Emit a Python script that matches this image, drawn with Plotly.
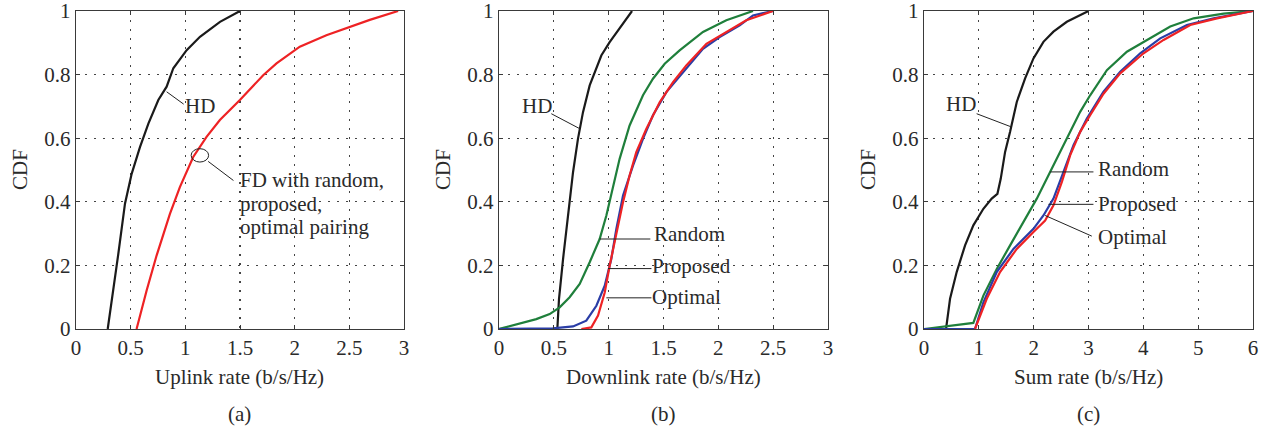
import plotly.graph_objects as go

# ---------------- data ----------------
# (a) Uplink rate
up_hd_x = [0.29, 0.341, 0.387, 0.448, 0.509, 0.585, 0.662, 0.753, 0.829, 0.89, 1.012, 1.134, 1.317, 1.5]
up_hd_y = [0.0, 0.121, 0.236, 0.394, 0.488, 0.572, 0.646, 0.72, 0.762, 0.82, 0.877, 0.919, 0.966, 1.0]
up_fd_x = [0.554, 0.646, 0.737, 0.859, 0.95, 1.072, 1.194, 1.316, 1.499, 1.712, 1.834, 2.047, 2.29, 2.504, 2.687, 2.946]
up_fd_y = [0.0, 0.121, 0.231, 0.362, 0.446, 0.541, 0.604, 0.657, 0.72, 0.798, 0.835, 0.888, 0.924, 0.951, 0.972, 1.0]

# (b) Downlink rate
dl_hd_x = [0.532, 0.547, 0.584, 0.629, 0.675, 0.72, 0.766, 0.827, 0.888, 0.933, 1.009, 1.1, 1.213]
dl_hd_y = [0.0, 0.094, 0.22, 0.357, 0.493, 0.598, 0.682, 0.766, 0.818, 0.86, 0.902, 0.944, 1.0]
dl_rand_x = [0.0, 0.188, 0.34, 0.462, 0.553, 0.644, 0.736, 0.827, 0.918, 0.979, 1.04, 1.1, 1.191, 1.313, 1.404, 1.511, 1.647, 1.86, 2.073, 2.316]
dl_rand_y = [0.0, 0.016, 0.031, 0.047, 0.068, 0.1, 0.142, 0.21, 0.283, 0.357, 0.451, 0.535, 0.64, 0.735, 0.787, 0.834, 0.876, 0.934, 0.971, 1.0]
dl_prop_x = [0.0, 0.49, 0.675, 0.796, 0.888, 0.964, 1.024, 1.07, 1.131, 1.222, 1.313, 1.404, 1.526, 1.678, 1.86, 2.012, 2.195, 2.316, 2.498]
dl_prop_y = [0.0, 0.002, 0.008, 0.026, 0.073, 0.136, 0.22, 0.315, 0.42, 0.514, 0.598, 0.672, 0.745, 0.808, 0.881, 0.918, 0.955, 0.986, 1.0]
dl_opt_x = [0.751, 0.842, 0.903, 0.964, 1.009, 1.07, 1.131, 1.191, 1.252, 1.343, 1.465, 1.587, 1.708, 1.891, 2.073, 2.255, 2.498]
dl_opt_y = [0.0, 0.005, 0.042, 0.115, 0.199, 0.304, 0.399, 0.483, 0.556, 0.629, 0.713, 0.776, 0.829, 0.897, 0.934, 0.971, 1.0]

# (c) Sum rate
sr_hd_x = [0.402, 0.475, 0.596, 0.749, 0.9, 1.083, 1.235, 1.339, 1.4, 1.479, 1.57, 1.692, 1.844, 1.996, 2.178, 2.361, 2.605, 3.0]
sr_hd_y = [0.0, 0.095, 0.179, 0.263, 0.326, 0.378, 0.41, 0.425, 0.473, 0.557, 0.62, 0.714, 0.788, 0.851, 0.903, 0.935, 0.966, 1.0]
sr_rand_x = [0.0, 0.9, 1.083, 1.327, 1.57, 1.813, 2.057, 2.3, 2.483, 2.665, 2.848, 3.03, 3.335, 3.7, 4.065, 4.491, 4.917, 5.465, 6.0]
sr_rand_y = [0.0, 0.019, 0.105, 0.189, 0.263, 0.336, 0.41, 0.494, 0.557, 0.62, 0.683, 0.735, 0.814, 0.872, 0.909, 0.951, 0.977, 0.992, 1.0]
sr_prop_x = [0.0, 0.93, 1.083, 1.327, 1.631, 1.996, 2.178, 2.361, 2.544, 2.726, 2.97, 3.274, 3.578, 3.943, 4.308, 4.795, 5.282, 6.0]
sr_prop_y = [0.0, 0.0, 0.084, 0.179, 0.252, 0.315, 0.357, 0.41, 0.494, 0.578, 0.662, 0.746, 0.809, 0.867, 0.914, 0.956, 0.977, 1.0]
sr_opt_x = [0.93, 1.144, 1.387, 1.692, 1.996, 2.209, 2.361, 2.513, 2.665, 2.848, 3.03, 3.274, 3.578, 4.004, 4.369, 4.856, 5.343, 6.0]
sr_opt_y = [0.0, 0.095, 0.179, 0.252, 0.305, 0.341, 0.389, 0.462, 0.546, 0.62, 0.672, 0.74, 0.804, 0.867, 0.909, 0.956, 0.977, 1.0]

x_titles = ["Uplink rate (b/s/Hz)", "Downlink rate (b/s/Hz)", "Sum rate (b/s/Hz)"]
sub_labels = ["(a)", "(b)", "(c)"]
x_ranges = [[0, 3], [0, 3], [0, 6]]
x_dticks = [0.5, 0.5, 1]
y_ticks = [0, 0.2, 0.4, 0.6, 0.8, 1]
y_ticktext = ["0", "0.2", "0.4", "0.6", "0.8", "1"]

# ---------------- styling ----------------
W, H = 1266, 430
FONT = "Liberation Serif"
FS = 21
TXT = "#2a2a2a"
C_BLACK = "#1a1a1a"
C_RED = "#ee2224"
C_GREEN = "#1f7f3b"
C_BLUE = "#2a3da6"
LW = 2.2

panel_px = [(76, 404), (499, 828), (924, 1253)]
ylabel_px = [20, 443, 868]
TOP, BOT = 11, 329
plot_h = BOT - TOP

fig = go.Figure()

def add_line(x, y, color, axis_idx):
    sfx = "" if axis_idx == 1 else str(axis_idx)
    fig.add_trace(go.Scatter(x=x, y=y, mode="lines", line=dict(color=color, width=LW),
                             xaxis="x" + sfx, yaxis="y" + sfx, showlegend=False,
                             hoverinfo="skip", cliponaxis=False))

add_line(up_hd_x, up_hd_y, C_BLACK, 1)
add_line(up_fd_x, up_fd_y, C_RED, 1)

add_line(dl_hd_x, dl_hd_y, C_BLACK, 2)
add_line(dl_rand_x, dl_rand_y, C_GREEN, 2)
add_line(dl_prop_x, dl_prop_y, C_BLUE, 2)
add_line(dl_opt_x, dl_opt_y, C_RED, 2)

add_line(sr_hd_x, sr_hd_y, C_BLACK, 3)
add_line(sr_rand_x, sr_rand_y, C_GREEN, 3)
add_line(sr_prop_x, sr_prop_y, C_BLUE, 3)
add_line(sr_opt_x, sr_opt_y, C_RED, 3)

axis_common = dict(
    showgrid=True, gridcolor="#444444", griddash="1.5px,7.5px", gridwidth=1.2,
    showline=True, linecolor="#3a3a3a", linewidth=1.2, mirror="ticks",
    ticks="inside", ticklen=4, tickcolor="#3a3a3a", automargin=False,
    ticklabeloverflow="allow",
    zeroline=False, tickfont=dict(family=FONT, size=FS, color=TXT),
)

layout = dict(
    width=W, height=H, margin=dict(l=0, r=0, t=TOP, b=H - BOT, autoexpand=False),
    paper_bgcolor="white", plot_bgcolor="white",
    font=dict(family=FONT, size=FS, color=TXT),
    showlegend=False, hovermode=False,
)
for i in range(3):
    sfx = "" if i == 0 else str(i + 1)
    l, r = panel_px[i]
    layout["xaxis" + sfx] = dict(axis_common, domain=[l / W, r / W], range=x_ranges[i],
                                 dtick=x_dticks[i], tick0=0, anchor="y" + sfx)
    layout["yaxis" + sfx] = dict(axis_common, domain=[0, 1], range=[0, 1],
                                 tickvals=y_ticks, ticktext=y_ticktext, anchor="x" + sfx)
fig.update_layout(**layout)

annotations = []
for i in range(3):
    l, r = panel_px[i]
    cx = (l + r) / 2 / W
    annotations.append(dict(text=x_titles[i], x=cx, y=(BOT - 377) / plot_h, xref="paper", yref="paper",
                            xanchor="center", yanchor="middle", showarrow=False,
                            font=dict(family=FONT, size=FS, color=TXT)))
    annotations.append(dict(text=sub_labels[i], x=cx, y=(BOT - 414) / plot_h, xref="paper", yref="paper",
                            xanchor="center", yanchor="middle", showarrow=False,
                            font=dict(family=FONT, size=FS, color=TXT)))
    annotations.append(dict(text="CDF", x=ylabel_px[i] / W, y=0.5, xref="paper", yref="paper",
                            xanchor="center", yanchor="middle", showarrow=False, textangle=-90,
                            font=dict(family=FONT, size=FS, color=TXT)))

def label(text, x, y, ax_i, anchor="left"):
    sfx = "" if ax_i == 1 else str(ax_i)
    annotations.append(dict(text=text, x=x, y=y, xref="x" + sfx, yref="y" + sfx,
                            xanchor=anchor, yanchor="middle", showarrow=False, align="left",
                            borderpad=0,
                            font=dict(family=FONT, size=FS, color=TXT)))

shapes = []
def seg(x0, y0, x1, y1, ax_i):
    sfx = "" if ax_i == 1 else str(ax_i)
    shapes.append(dict(type="line", x0=x0, y0=y0, x1=x1, y1=y1, xref="x" + sfx, yref="y" + sfx,
                       line=dict(color="#222", width=1)))

# (a)
seg(0.829, 0.746, 0.985, 0.707, 1)
label("HD", 0.99, 0.70, 1)
shapes.append(dict(type="circle", xref="x", yref="y", x0=1.133 - 0.08, x1=1.133 + 0.08,
                   y0=0.546 - 0.021, y1=0.546 + 0.021, line=dict(color="#222", width=1)))
seg(1.209, 0.527, 1.44, 0.467, 1)
label("FD with random,", 1.49, 0.467, 1)
label("proposed,", 1.49, 0.394, 1)
label("optimal pairing", 1.49, 0.32, 1)

# (b)
seg(0.477, 0.677, 0.736, 0.63, 2)
label("HD", 0.49, 0.70, 2, anchor="right")
seg(0.918, 0.283, 1.38, 0.283, 2)
label("Random", 1.40, 0.298, 2)
seg(0.994, 0.19, 1.39, 0.19, 2)
label("Proposed", 1.39, 0.198, 2)
seg(0.979, 0.098, 1.39, 0.098, 2)
label("Optimal", 1.39, 0.10, 2)

# (c)
seg(0.96, 0.677, 1.6, 0.635, 3)
label("HD", 0.97, 0.708, 3, anchor="right")
seg(2.3, 0.494, 3.09, 0.494, 3)
label("Random", 3.15, 0.504, 3)
seg(2.27, 0.392, 3.09, 0.392, 3)
label("Proposed", 3.15, 0.394, 3)
seg(2.209, 0.357, 3.06, 0.292, 3)
label("Optimal", 3.15, 0.289, 3)

fig.update_layout(annotations=annotations, shapes=shapes)
fig.write_html("out.html", config={"displayModeBar": False, "staticPlot": True},
               post_script="document.body.style.margin='0';document.body.style.overflow='hidden';")
